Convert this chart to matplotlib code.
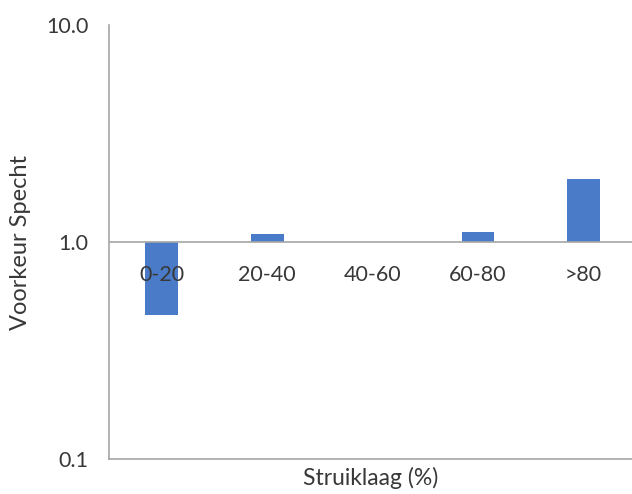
import matplotlib
matplotlib.use("Agg")
import matplotlib.pyplot as plt
from matplotlib.ticker import FixedLocator, FixedFormatter, NullLocator

# preference of the woodpecker per shrub-layer cover class
categories = ["0-20", "20-40", "40-60", "60-80", ">80"]
voorkeur = [0.46, 1.09, 1.0, 1.11, 1.95]
ytick_vals = [0.1, 1.0, 10.0]
ytick_labels = ["0.1", "1.0", "10.0"]

plt.rcParams['font.family'] = ['Lato', 'DejaVu Sans']
text_col = "#383838"
axis_col = "#a6a6a6"
bar_col = "#4a7bc8"

W, H = 632, 494
fig = plt.figure(figsize=(W / 100, H / 100), dpi=100)
ax = fig.add_axes([0.1725, 0.0709, 0.8275, 0.8785])

x = list(range(len(categories)))
heights = [v - 1.0 for v in voorkeur]
ax.bar(x, heights, bottom=1.0, width=0.31, color=bar_col, zorder=2)

ax.set_yscale("log")
ax.set_ylim(0.1, 10.0)
ax.set_xlim(-0.5, 4.46)
ax.yaxis.set_major_locator(FixedLocator(ytick_vals))
ax.yaxis.set_major_formatter(FixedFormatter(ytick_labels))
ax.yaxis.set_minor_locator(NullLocator())
ax.set_xticks([])

# horizontal axis crosses at 1.0
ax.axhline(1.0, color=axis_col, linewidth=1.2, zorder=3)
for i, lab in enumerate(categories):
    ax.text(i, 0.705, lab, ha="center", va="center", fontsize=15.5,
            color=text_col, zorder=4)

for side in ["top", "right"]:
    ax.spines[side].set_visible(False)
for side in ["left", "bottom"]:
    ax.spines[side].set_color(axis_col)
    ax.spines[side].set_linewidth(1.2)

ax.tick_params(axis="y", length=0, pad=15, labelsize=15.5, labelcolor=text_col)

# axis titles
fig.text(21 / W, 1 - 243 / H, "Voorkeur Specht", rotation=90, ha="center",
         va="center", fontsize=17, color=text_col)
fig.text(371 / W, 1 - 478 / H, "Struiklaag (%)", ha="center", va="center",
         fontsize=16.5, color=text_col)

fig.savefig("out.png", dpi=100)
